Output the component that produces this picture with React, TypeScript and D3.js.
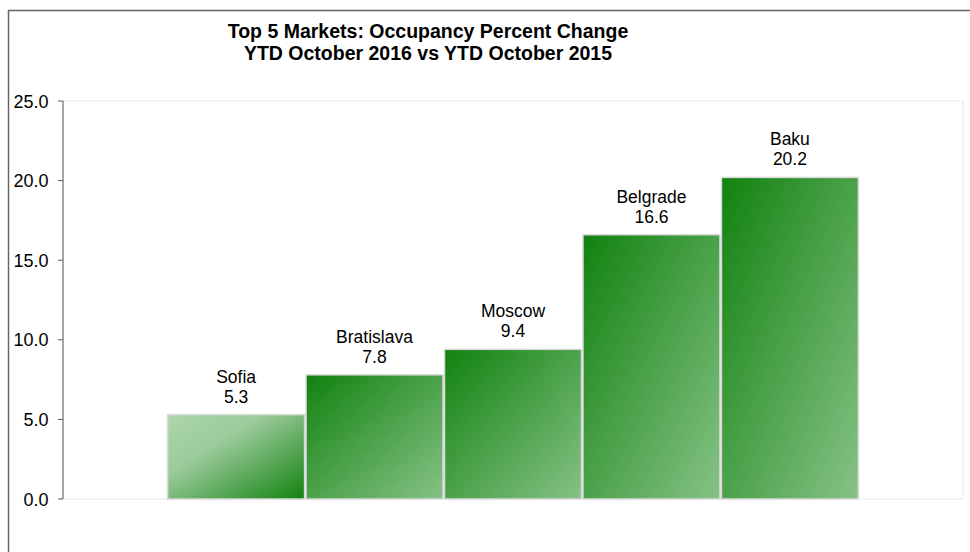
import React from 'react';
import * as d3 from 'd3';

const markets = ['Sofia', 'Bratislava', 'Moscow', 'Belgrade', 'Baku'];
const occupancyChange = [5.3, 7.8, 9.4, 16.6, 20.2];
const yTicks = [0, 5, 10, 15, 20, 25];
const titleLines = ['Top 5 Markets: Occupancy Percent Change', 'YTD October 2016 vs YTD October 2015'];

const W = 970;
const H = 552;
const plot = { left: 63, right: 963, top: 101, bottom: 499 };

export default function App() {
  const x = d3.scaleBand<string>()
    .domain(markets)
    .range([plot.left, plot.right])
    .paddingInner(0)
    .paddingOuter(0.75);

  const y = d3.scaleLinear().domain([0, 25]).range([plot.bottom, plot.top]);

  const font = 'Arial, "Liberation Sans", sans-serif';

  return (
    <svg width={W} height={H} style={{ position: 'absolute', left: 0, top: 0 }}>
      <defs>
        {/* first bar runs light -> dark, the rest dark -> light */}
        <linearGradient id="gFirst" x1="0" y1="0" x2="1" y2="1">
          <stop offset="0%" stopColor="#acd7ac" />
          <stop offset="35%" stopColor="#9ccb9c" />
          <stop offset="100%" stopColor="#12820f" />
        </linearGradient>
        <linearGradient id="gRest" x1="0" y1="0" x2="1" y2="1">
          <stop offset="0%" stopColor="#11820f" />
          <stop offset="100%" stopColor="#86c286" />
        </linearGradient>
      </defs>

      {/* outer frame (only left and top visible) */}
      <line x1={8.5} y1={10} x2={8.5} y2={H} stroke="#666" strokeWidth={1.5} />
      <line x1={8} y1={10.5} x2={W} y2={10.5} stroke="#666" strokeWidth={1.5} />

      {titleLines.map((t, i) => (
        <text key={t} x={428} y={38 + i * 22} textAnchor="middle"
          fontFamily={font} fontWeight="bold" fontSize={19.5} fill="#000">{t}</text>
      ))}

      {/* dotted plot area border */}
      <rect x={plot.left} y={plot.top} width={plot.right - plot.left} height={plot.bottom - plot.top}
        fill="none" stroke="#d4d4d4" strokeWidth={1} strokeDasharray="1,1" />

      {markets.map((m, i) => {
        const v = occupancyChange[i];
        const bx = x(m)!;
        const bw = x.bandwidth();
        const top = y(v);
        return (
          <g key={m}>
            <rect x={bx + 0.75} y={top} width={bw - 1.5} height={y(0) - top}
              fill={i === 0 ? 'url(#gFirst)' : 'url(#gRest)'}
              stroke="#d9d9d9" strokeWidth={1.5} />
            <text x={bx + bw / 2} y={top - 32} textAnchor="middle"
              fontFamily={font} fontSize={17.5} fill="#000">{m}</text>
            <text x={bx + bw / 2} y={top - 12} textAnchor="middle"
              fontFamily={font} fontSize={17.5} fill="#000">{v.toFixed(1)}</text>
          </g>
        );
      })}

      {/* y axis */}
      <line x1={plot.left} y1={plot.top} x2={plot.left} y2={plot.bottom} stroke="#595959" strokeWidth={1} />
      {yTicks.map(t => (
        <g key={t}>
          <line x1={plot.left - 5} x2={plot.left} y1={y(t)} y2={y(t)} stroke="#595959" strokeWidth={1} />
          <text x={48.5} y={y(t) + 6.5} textAnchor="end" fontFamily={font} fontSize={18} fill="#000">
            {t.toFixed(1)}
          </text>
        </g>
      ))}
    </svg>
  );
}
